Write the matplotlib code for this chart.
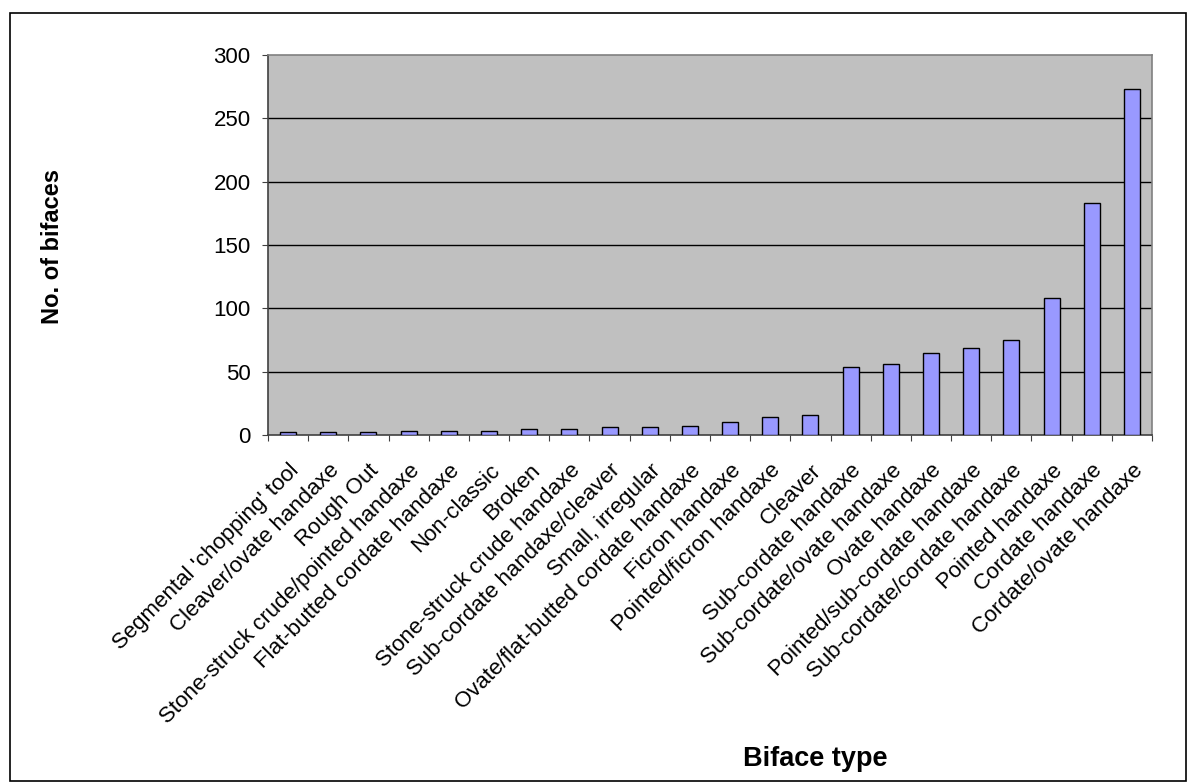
import matplotlib
matplotlib.use("Agg")
import matplotlib.pyplot as plt
from matplotlib.patches import Rectangle

categories = [
    "Segmental 'chopping' tool", "Cleaver/ovate handaxe", "Rough Out",
    "Stone-struck crude/pointed handaxe", "Flat-butted cordate handaxe",
    "Non-classic", "Broken", "Stone-struck crude handaxe",
    "Sub-cordate handaxe/cleaver", "Small, irregular",
    "Ovate/flat-butted cordate handaxe", "Ficron handaxe",
    "Pointed/ficron handaxe", "Cleaver", "Sub-cordate handaxe",
    "Sub-cordate/ovate handaxe", "Ovate handaxe",
    "Pointed/sub-cordate handaxe", "Sub-cordate/cordate handaxe",
    "Pointed handaxe", "Cordate handaxe", "Cordate/ovate handaxe",
]
values = [2, 2, 2, 3, 3, 3, 5, 5, 6, 6, 7, 10, 14, 16, 54, 56, 65, 69, 75, 108, 183, 273]
yticks = [0, 50, 100, 150, 200, 250, 300]

plt.rcParams['font.family'] = ['Liberation Sans', 'DejaVu Sans']

W, H = 1196, 783
fig = plt.figure(figsize=(W / 100, H / 100), dpi=100)
left, right, top, bottom = 268, 1152, 55, 435
ax = fig.add_axes([left / W, 1 - bottom / H, (right - left) / W, (bottom - top) / H])
ax.set_facecolor('#C0C0C0')

x = list(range(len(categories)))
ax.bar(x, values, width=0.4, color='#9999FF', edgecolor='black', linewidth=1.0, zorder=3)

ax.set_xlim(-0.5, len(categories) - 0.5)
ax.set_ylim(0, 300)
ax.set_yticks(yticks)
ax.set_yticklabels([str(v) for v in yticks], fontsize=16)
for v in yticks[1:-1]:
    ax.axhline(v, color='black', linewidth=1.0, zorder=2)

ax.set_xticks([i + 0.5 for i in range(-1, len(categories))], minor=False)
ax.set_xticklabels([])
ax.set_xticks(x, minor=True)
ax.set_xticklabels(categories, minor=True, rotation=45, ha='right', rotation_mode='anchor', fontsize=16)
ax.tick_params(axis='x', which='minor', length=0, pad=18)
ax.tick_params(axis='x', which='major', direction='out', length=4.5, color='#404040')
ax.tick_params(axis='y', direction='out', length=4.5, color='#404040', pad=8)

ax.spines['left'].set_color('#404040')
ax.spines['bottom'].set_color('#404040')
ax.spines['top'].set_color('#808080')
ax.spines['right'].set_color('#808080')
for s in ax.spines.values():
    s.set_linewidth(1.2)

fig.text(53 / W, 1 - 246 / H, 'No. of bifaces', rotation=90, ha='center', va='center',
         fontsize=17, fontweight='bold')
fig.text(815 / W, 1 - 759 / H, 'Biface type', ha='center', va='center',
         fontsize=19.5, fontweight='bold')

fig.patches.append(Rectangle((10 / W, 1 - 781 / H), 1176 / W, 768 / H, transform=fig.transFigure,
                             fill=False, edgecolor='black', linewidth=1.2))

fig.savefig('out.png', dpi=100, facecolor='white')
